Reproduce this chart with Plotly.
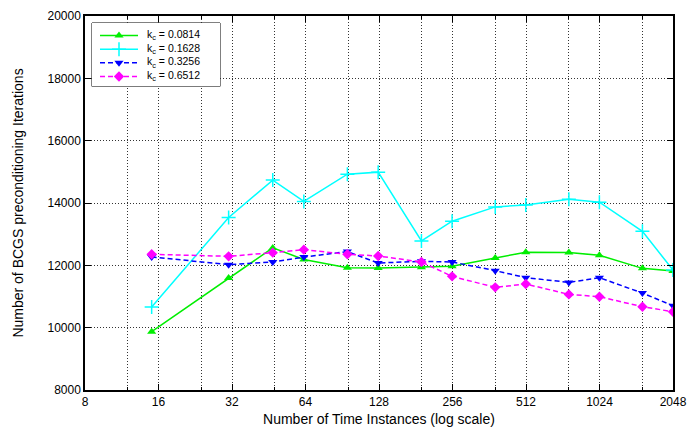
import plotly.graph_objects as go

time_instances = [15, 31, 47, 63, 95, 127, 191, 255, 383, 511, 767, 1023, 1535, 2047]

kc_0814 = [9870, 11590, 12560, 12190, 11925, 11915, 11936, 11968, 12235, 12420, 12410, 12320, 11903, 11817]
kc_1628 = [10660, 13534, 14735, 14050, 14926, 14990, 12783, 13415, 13875, 13939, 14122, 14026, 13093, 11850]
kc_3256 = [12270, 12022, 12107, 12267, 12440, 12075, 12129, 12107, 11829, 11604, 11453, 11604, 11110, 10704]
kc_6512 = [12354, 12289, 12407, 12504, 12354, 12300, 12107, 11646, 11293, 11400, 11068, 10994, 10672, 10511]

series_names = ["k<sub>c</sub> = 0.0814", "k<sub>c</sub> = 0.1628",
                "k<sub>c</sub> = 0.3256", "k<sub>c</sub> = 0.6512"]

major_ticks = [8, 16, 32, 64, 128, 256, 512, 1024, 2048]
minor_ticks = [12, 24, 48, 96, 192, 384, 768, 1536]
y_ticks = [8000, 10000, 12000, 14000, 16000, 18000, 20000]

styles = [
    dict(color="#00ee00", dash="solid", symbol="triangle-up", size=8),
    dict(color="#00ffff", dash="solid", symbol="cross-thin", size=10),
    dict(color="#0000ff", dash="5px,3px", symbol="triangle-down", size=8),
    dict(color="#ff00ff", dash="5px,3px", symbol="diamond", size=8),
]

def make_marker(st):
    m = dict(symbol=st["symbol"], size=st["size"], color=st["color"])
    if st["symbol"] == "cross-thin":
        m["line"] = dict(color=st["color"], width=1.5)
    return m

FIG_W, FIG_H = 690, 430
PLOT_L, PLOT_R, PLOT_T, PLOT_B = 85, 673, 16, 390

fig = go.Figure()
for name, vals, st in zip(series_names, [kc_0814, kc_1628, kc_3256, kc_6512], styles):
    fig.add_trace(go.Scatter(
        x=time_instances, y=vals, name=name, mode="lines+markers",
        line=dict(color=st["color"], width=1.5, dash=st["dash"]),
        marker=make_marker(st), showlegend=False,
    ))

# compact gnuplot-style legend drawn in a small helper axis (units: window pixels)
LEG_FS = 10.5
line_h = LEG_FS * 1.3
L_LEFT, L_RIGHT, L_TOP = 92, 220, 23
row_y = [35.5 + i * line_h for i in range(len(series_names))]
L_BOTTOM = row_y[-1] + 10
for st, ry in zip(styles, row_y):
    fig.add_trace(go.Scatter(
        x=[100, 138], y=[ry, ry], mode="lines", xaxis="x2", yaxis="y2",
        line=dict(color=st["color"], width=1.5, dash=st["dash"]),
        showlegend=False, hoverinfo="skip"))
    fig.add_trace(go.Scatter(
        x=[119], y=[ry], mode="markers", xaxis="x2", yaxis="y2",
        marker=make_marker(st), showlegend=False, hoverinfo="skip"))
fig.add_annotation(x=145, y=sum(row_y) / len(row_y), xref="x2", yref="y2",
                   text="<br>".join(series_names), align="left",
                   showarrow=False, xanchor="left", yanchor="middle",
                   font=dict(size=LEG_FS, color="black"))
fig.add_shape(type="rect", xref="x2 domain", yref="y2 domain", x0=0, x1=1, y0=0, y1=1,
              line=dict(color="black", width=1), fillcolor="white", layer="below")

W = PLOT_R - PLOT_L
H = PLOT_B - PLOT_T
grid_color = "#333333"
grid_dash = "1px,2px"
fig.update_layout(
    width=FIG_W, height=FIG_H,
    margin=dict(l=PLOT_L, r=FIG_W - PLOT_R, t=PLOT_T, b=FIG_H - PLOT_B, autoexpand=False),
    paper_bgcolor="white", plot_bgcolor="white",
    font=dict(family="Liberation Sans, Arial, sans-serif", size=12, color="black"),
    showlegend=False,
    xaxis=dict(
        type="log", range=[0.90309, 3.31133], automargin=False,
        tickmode="array", tickvals=major_ticks, ticktext=[str(v) for v in major_ticks],
        ticks="inside", ticklen=6, tickcolor="black",
        showline=True, linecolor="black", linewidth=1.5, mirror="ticks",
        showgrid=True, gridcolor=grid_color, griddash=grid_dash, gridwidth=1,
        zeroline=False,
        minor=dict(tickmode="array", tickvals=minor_ticks, ticks="inside", ticklen=3,
                   tickcolor="black", showgrid=True, gridcolor=grid_color, griddash=grid_dash),
        title=dict(text="Number of Time Instances (log scale)", standoff=6),
        tickfont=dict(size=12),
    ),
    yaxis=dict(
        range=[8000, 20000], tickmode="array", tickvals=y_ticks, automargin=False,
        ticktext=[str(v) for v in y_ticks],
        ticks="inside", ticklen=6, tickcolor="black",
        showline=True, linecolor="black", linewidth=1.5, mirror="ticks",
        showgrid=True, gridcolor=grid_color, griddash=grid_dash, gridwidth=1,
        zeroline=False,
        title=dict(text="Number of BCGS preconditioning Iterations", standoff=21),
        tickfont=dict(size=12),
    ),
    xaxis2=dict(domain=[(L_LEFT - PLOT_L) / W, (L_RIGHT - PLOT_L) / W],
                range=[L_LEFT, L_RIGHT], visible=False, fixedrange=True, anchor="y2"),
    yaxis2=dict(domain=[(PLOT_B - L_BOTTOM) / H, (PLOT_B - L_TOP) / H],
                range=[L_BOTTOM, L_TOP], visible=False, fixedrange=True, anchor="x2"),
)

fig.write_html(
    "out.html",
    config={"displayModeBar": False},
    post_script="document.body.style.margin='0';document.body.style.overflow='hidden';",
)
